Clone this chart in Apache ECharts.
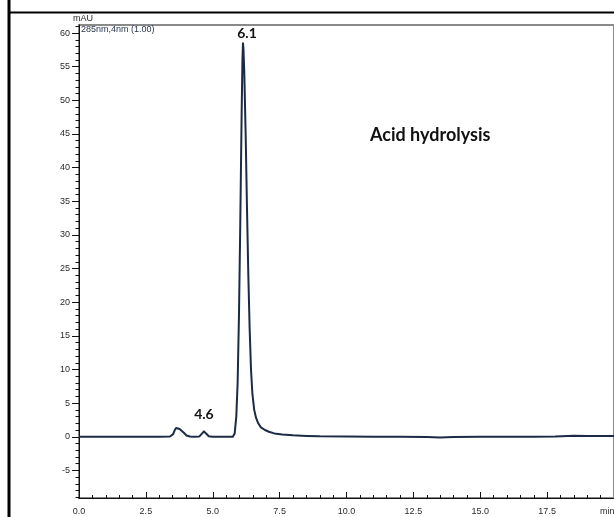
<!DOCTYPE html>
<html>
<head>
<meta charset="utf-8">
<script src="https://cdn.jsdelivr.net/npm/echarts@6/dist/echarts.min.js"></script>
<style>
  html, body { margin: 0; padding: 0; background: #fff; }
  #chart { width: 614px; height: 517px; }
</style>
</head>
<body>
<div id="chart"></div>
<script>
var dom = document.getElementById("chart");
var myChart = echarts.init(dom);

// retention time (min) and absorbance (mAU)
const timeMin = [0, 1, 2, 3, 3.4, 3.52, 3.58, 3.63, 3.69, 3.76, 3.83, 3.92, 4.02, 4.15, 4.3,
  4.5, 4.58, 4.67, 4.76, 4.85, 5.0, 5.5, 5.75, 5.82, 5.88, 5.93, 5.98, 6.03, 6.08, 6.11, 6.13, 6.15,
  6.18, 6.23, 6.28, 6.33, 6.38, 6.43, 6.48, 6.55, 6.62, 6.7, 6.8, 6.95, 7.1, 7.3, 7.6,
  8.0, 8.5, 9.0, 10, 11, 12, 13, 13.5, 14, 15, 16, 17, 17.8, 18.5, 19, 19.5, 20]
const absorbance = [0, 0, 0, 0, 0.05, 0.4, 1.0, 1.3, 1.05, 1.15, 1.1, 0.6, 0.2, 0.05, 0,
  0.05, 0.4, 0.8, 0.45, 0.08, 0, 0, 0, 0.5, 3, 8, 18, 32, 48, 56, 58.5, 57.5,
  54, 45, 34, 24, 16, 10, 6.5, 4, 2.8, 2.0, 1.4, 1.0, 0.75, 0.5, 0.35,
  0.22, 0.12, 0.06, 0.03, 0.02, 0, -0.05, -0.12, -0.05, 0, 0, 0.02, 0.05, 0.15, 0.12, 0.1, 0.12]

// peak labels
const peakNames = ['6.1', '4.6']
const peakTimes = [6.13, 4.67]
const peakHeights = [58.5, 0.8]

// axis ticks
const xTicks = [0, 2.5, 5, 7.5, 10, 12.5, 15, 17.5]
const xMinor = [0, 0.5, 1, 1.5, 2, 2.5, 3, 3.5, 4, 4.5, 5, 5.5, 6, 6.5, 7, 7.5, 8, 8.5, 9, 9.5,
  10, 10.5, 11, 11.5, 12, 12.5, 13, 13.5, 14, 14.5, 15, 15.5, 16, 16.5, 17, 17.5, 18, 18.5, 19, 19.5]
const yTicks = [-5, 0, 5, 10, 15, 20, 25, 30, 35, 40, 45, 50, 55, 60]
const yMinor = []
for (let v = -9; v <= 61; v++) yMinor.push(v)

const trace = timeMin.map((t, i) => [t, absorbance[i]])
const labelNudge = [[4, 1], [0, -6]]
const peaks = peakNames.map((n, i) => ({
  name: n, value: n, coord: [peakTimes[i], peakHeights[i]],
  label: { offset: labelNudge[i] }
}))

const axisFont = { fontFamily: 'Liberation Sans', fontSize: 9, color: '#2a2a2a' }

option = {
  animation: false,
  backgroundColor: '#fff',
  grid: {
    left: 79, right: -3, top: 25, bottom: 19,
    show: true, borderColor: '#8a8a8a', borderWidth: 2, backgroundColor: 'transparent'
  },
  xAxis: [
    {
      type: 'value', min: 0, max: 20,
      axisLine: { show: true, onZero: false, lineStyle: { color: '#111', width: 1 } },
      axisTick: { show: true, inside: true, length: 6, customValues: xTicks, lineStyle: { color: '#111' } },
      axisLabel: Object.assign({ margin: 9, customValues: xTicks,
        formatter: v => v.toFixed(1) }, axisFont),
      splitLine: { show: false }
    },
    {
      type: 'value', min: 0, max: 20, position: 'bottom',
      axisLine: { show: false, onZero: false },
      axisTick: { show: true, inside: true, length: 3, customValues: xMinor, lineStyle: { color: '#111' } },
      axisLabel: { show: false },
      splitLine: { show: false }
    }
  ],
  yAxis: [
    {
      type: 'value', min: -9.1, max: 61.2,
      axisLine: { show: true, onZero: false, lineStyle: { color: '#111', width: 1 } },
      axisTick: { show: true, length: 7, customValues: yTicks, lineStyle: { color: '#111' } },
      axisLabel: Object.assign({ margin: 9, customValues: yTicks }, axisFont),
      splitLine: { show: false }
    },
    {
      type: 'value', min: -9.1, max: 61.2, position: 'left',
      axisLine: { show: false, onZero: false },
      axisTick: { show: true, length: 3.5, customValues: yMinor, lineStyle: { color: '#111' } },
      axisLabel: { show: false },
      splitLine: { show: false }
    }
  ],
  graphic: [
    { type: 'line', shape: { x1: 9, y1: 0, x2: 9, y2: 517 }, style: { stroke: '#000', lineWidth: 3 } },
    { type: 'line', shape: { x1: 8, y1: 12.5, x2: 614, y2: 12.5 }, style: { stroke: '#000', lineWidth: 2 } },
    { type: 'text', left: 73, top: 14, style: { text: 'mAU', font: '9px "Liberation Sans"', fill: '#2a2a2a' } },
    { type: 'text', left: 81, top: 25, style: { text: '285nm,4nm (1.00)', font: '9px "Liberation Sans"', fill: '#2a3550' } },
    { type: 'text', left: 600, top: 507, style: { text: 'min', font: '9px "Liberation Sans"', fill: '#2a2a2a' } },
    { type: 'text', left: 370, top: 126, style: { text: 'Acid hydrolysis', font: 'bold 18px Lato', fill: '#111' } }
  ],
  series: [
    {
      type: 'line',
      data: trace,
      xAxisIndex: 0,
      yAxisIndex: 0,
      showSymbol: false,
      smooth: false,
      lineStyle: { color: '#1c2b45', width: 2, join: 'round' },
      markPoint: {
        symbol: 'circle',
        symbolSize: 0,
        data: peaks,
        label: {
          show: true, position: 'top', distance: 4,
          formatter: p => p.name,
          fontFamily: 'Lato', fontWeight: 'bold', fontSize: 14, color: '#111'
        }
      }
    }
  ]
};
if (option && typeof option === "object") {
  myChart.setOption(option, true);
}
</script>
</body>
</html>
